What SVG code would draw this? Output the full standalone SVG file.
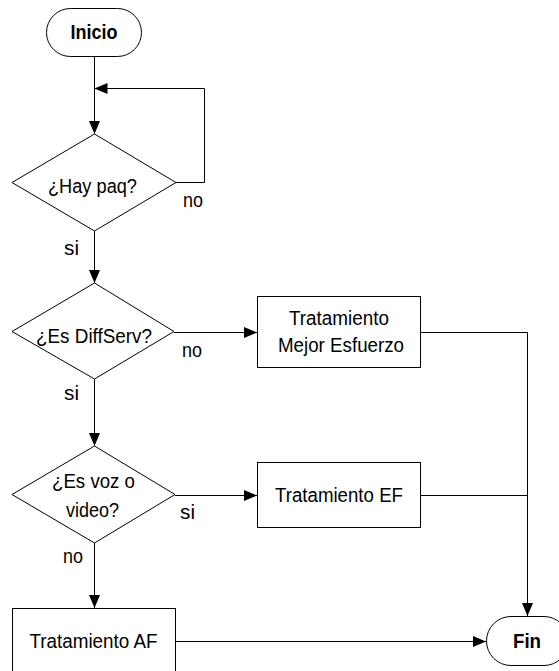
<svg xmlns="http://www.w3.org/2000/svg" width="559" height="671" viewBox="0 0 559 671">
  <style>
    .shape { fill: #ffffff; stroke: #000000; stroke-width: 1; }
    .line { fill: none; stroke: #000000; stroke-width: 1; }
    .txt { font-family: "Liberation Sans", Arial, sans-serif; font-size: 20px; fill: #000000; text-anchor: middle; }
    .lbl { font-family: "Liberation Sans", Arial, sans-serif; font-size: 20px; fill: #000000; }
    .bold { font-weight: bold; }
  </style>
  <defs>
    <marker id="arrow" markerWidth="13" markerHeight="11" refX="13" refY="5.5" orient="auto" markerUnits="userSpaceOnUse">
      <path d="M0,0 L13,5.5 L0,11 Z" fill="#000000"/>
    </marker>
  </defs>
  <rect width="559" height="671" fill="#ffffff"/>

  <g id="connectors">
    <line class="line" x1="94.5" y1="57" x2="94.5" y2="134" marker-end="url(#arrow)"/>
    <polyline class="line" points="176,182.5 204.5,182.5 204.5,88.5 94.5,88.5" marker-end="url(#arrow)"/>
    <line class="line" x1="94.5" y1="231" x2="94.5" y2="283" marker-end="url(#arrow)"/>
    <line class="line" x1="174" y1="332.5" x2="257" y2="332.5" marker-end="url(#arrow)"/>
    <line class="line" x1="94.5" y1="379" x2="94.5" y2="446" marker-end="url(#arrow)"/>
    <line class="line" x1="175" y1="495.5" x2="257" y2="495.5" marker-end="url(#arrow)"/>
    <line class="line" x1="94.5" y1="543" x2="94.5" y2="608" marker-end="url(#arrow)"/>
    <line class="line" x1="175" y1="641.5" x2="486" y2="641.5" marker-end="url(#arrow)"/>
    <polyline class="line" points="420,332.5 527.5,332.5 527.5,616" marker-end="url(#arrow)"/>
    <line class="line" x1="420" y1="495.5" x2="527.5" y2="495.5"/>
    <text class="lbl" x="183" y="207" textLength="20" lengthAdjust="spacingAndGlyphs">no</text>
    <text class="lbl" x="64" y="255" textLength="15" lengthAdjust="spacingAndGlyphs">si</text>
    <text class="lbl" x="182" y="357" textLength="20" lengthAdjust="spacingAndGlyphs">no</text>
    <text class="lbl" x="64" y="400" textLength="15" lengthAdjust="spacingAndGlyphs">si</text>
    <text class="lbl" x="180" y="519" textLength="15" lengthAdjust="spacingAndGlyphs">si</text>
    <text class="lbl" x="63" y="563" textLength="20" lengthAdjust="spacingAndGlyphs">no</text>
  </g>

  <g id="inicio">
    <rect class="shape" x="46.5" y="8.5" width="95" height="48" rx="24" ry="24"/>
    <text class="txt bold" x="94" y="39" textLength="47" lengthAdjust="spacingAndGlyphs">Inicio</text>
  </g>

  <g id="hay-paq">
    <polygon class="shape" points="94.5,134 176,182.5 94.5,231 12,182.5"/>
    <text class="txt" x="92.5" y="193" textLength="89" lengthAdjust="spacingAndGlyphs">¿Hay paq?</text>
  </g>

  <g id="es-diffserv">
    <polygon class="shape" points="94.5,283 174,331.5 94.5,379 12,331.5"/>
    <text class="txt" x="94" y="343" textLength="116" lengthAdjust="spacingAndGlyphs">¿Es DiffServ?</text>
  </g>

  <g id="mejor-esfuerzo">
    <rect class="shape" x="257.5" y="296.5" width="163" height="71"/>
    <text class="txt" x="339" y="325" textLength="100" lengthAdjust="spacingAndGlyphs">Tratamiento</text>
    <text class="txt" x="341" y="352" textLength="126" lengthAdjust="spacingAndGlyphs">Mejor Esfuerzo</text>
  </g>

  <g id="es-voz">
    <polygon class="shape" points="94.5,446 175,494.5 94.5,543 12,494.5"/>
    <text class="txt" x="93.5" y="488" textLength="83" lengthAdjust="spacingAndGlyphs">¿Es voz o</text>
    <text class="txt" x="92.5" y="517" textLength="53" lengthAdjust="spacingAndGlyphs">video?</text>
  </g>

  <g id="tratamiento-ef">
    <rect class="shape" x="257.5" y="462.5" width="163" height="65"/>
    <text class="txt" x="339" y="502" textLength="128" lengthAdjust="spacingAndGlyphs">Tratamiento EF</text>
  </g>

  <g id="tratamiento-af">
    <rect class="shape" x="12.5" y="608.5" width="163" height="70"/>
    <text class="txt" x="93.5" y="648" textLength="128" lengthAdjust="spacingAndGlyphs">Tratamiento AF</text>
  </g>

  <g id="fin">
    <rect class="shape" x="486.5" y="616.5" width="82" height="49" rx="24.5" ry="24.5"/>
    <text class="txt bold" x="527" y="648" textLength="28" lengthAdjust="spacingAndGlyphs">Fin</text>
  </g>
</svg>
